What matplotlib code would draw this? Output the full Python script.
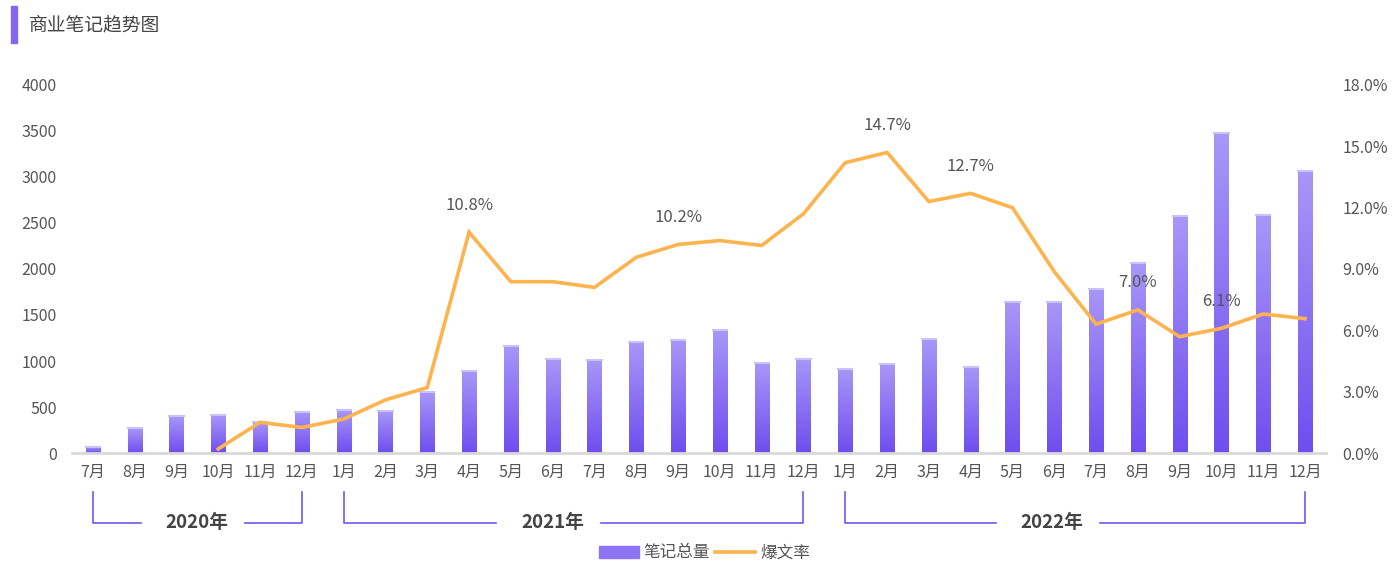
import numpy as np
import matplotlib.pyplot as plt
from matplotlib.patches import Rectangle
from matplotlib.lines import Line2D
from matplotlib.colors import LinearSegmentedColormap

plt.rcParams['font.family'] = ['Noto Sans CJK SC', 'DejaVu Sans']

# --- data
months = ["7月", "8月", "9月", "10月", "11月", "12月",
          "1月", "2月", "3月", "4月", "5月", "6月", "7月", "8月", "9月", "10月", "11月", "12月",
          "1月", "2月", "3月", "4月", "5月", "6月", "7月", "8月", "9月", "10月", "11月", "12月"]
notes_total = [70, 270, 400, 410, 340, 450,
               467, 456, 660, 890, 1163, 1018, 1010, 1203, 1225, 1333, 975, 1022,
               913, 964, 1239, 938, 1645, 1645, 1786, 2062, 2572, 3475, 2583, 3065]
# 爆文率 (%), starts at Oct 2020
hit_rate = [None, None, None, 0.2, 1.5, 1.25,
            1.66, 2.6, 3.2, 10.8, 8.38, 8.38, 8.1, 9.57, 10.2, 10.39, 10.15, 11.7,
            14.2, 14.7, 12.3, 12.7, 12.0, 8.87, 6.3, 7.0, 5.69, 6.1, 6.8, 6.57]
labeled_idx = [9, 14, 19, 21, 25, 27]
years = ["2020年", "2021年", "2022年"]
year_spans = [(0, 5), (6, 17), (18, 29)]

PURPLE = "#7456EE"
ORANGE = "#FDB44E"
TXT = "#555555"

fig = plt.figure(figsize=(14, 5.73), dpi=100)
ax = fig.add_axes([0.0514, 0.2094, 0.8957, 0.6423])
ax2 = ax.twinx()

x = np.arange(len(months))
w = 0.34
cmap = LinearSegmentedColormap.from_list("g", ["#6F4EEE", "#A897F8"])
grad = np.linspace(0, 1, 256).reshape(-1, 1)
for xi, h in zip(x, notes_total):
    ax.imshow(grad, extent=[xi - w / 2, xi + w / 2, 0, h], origin="lower",
              cmap=cmap, aspect="auto", zorder=2)
    ax.plot([xi - w / 2, xi + w / 2], [h, h], color="#CBC1FB", lw=1.5, zorder=3)

ax.set_xlim(-0.5, len(months) - 0.5)
ax.set_ylim(0, 4000)
ax.set_yticks(range(0, 4001, 500))
ax.set_xticks(x)
ax.set_xticklabels(months)
ax.tick_params(axis="y", length=0, pad=11, labelsize=11.5, labelcolor=TXT)
ax.tick_params(axis="x", length=0, pad=8, labelsize=11.5, labelcolor=TXT)
for s in ["top", "right", "left"]:
    ax.spines[s].set_visible(False)
ax.spines["bottom"].set_color("#D9D9D9")
ax.spines["bottom"].set_linewidth(2)

# --- line
lx = [i for i, v in enumerate(hit_rate) if v is not None]
ly = [v for v in hit_rate if v is not None]
ax2.plot(lx, ly, color=ORANGE, lw=2.6, zorder=4, solid_joinstyle="miter")
ax2.set_ylim(0, 18)
ax2.set_yticks(np.arange(0, 18.1, 3))
ax2.set_yticklabels([f"{v:.1f}%" for v in np.arange(0, 18.1, 3)])
ax2.tick_params(axis="y", length=0, pad=12, labelsize=11.5, labelcolor=TXT)
for s in ax2.spines.values():
    s.set_visible(False)
for i in labeled_idx:
    ax2.annotate(f"{hit_rate[i]:.1f}%", (i, hit_rate[i]), xytext=(0, 19.5),
                 textcoords="offset points", ha="center", va="center",
                 fontsize=12, color=TXT)

# --- year brackets below the axis
trans = ax.get_xaxis_transform()
y_top, y_bot = -0.105, -0.19
text_shift = [0, -0.5, -0.55]
for (a, b), name, sh in zip(year_spans, years, text_shift):
    mid = (a + b) / 2 + sh
    ax.plot([a, a, mid - 1.35], [y_top, y_bot, y_bot], color=PURPLE, lw=1.2,
            transform=trans, clip_on=False)
    ax.plot([mid + 1.15, b, b], [y_bot, y_bot, y_top], color=PURPLE, lw=1.2,
            transform=trans, clip_on=False)
    ax.text(mid, y_bot, name, transform=trans, ha="center", va="center",
            fontsize=13.5, fontweight="bold", color="#444444")

# --- title
fig.patches.append(Rectangle((11 / 1400, 1 - 43 / 573), 6 / 1400, 37 / 573,
                             transform=fig.transFigure, color="#8466F3"))
fig.text(29 / 1400, 1 - 25 / 573, "商业笔记趋势图", fontsize=13.5, color="#444444",
         ha="left", va="center")

# --- legend
handles = [Rectangle((0, 0), 1, 1, color="#8C74F4"),
           Line2D([0], [0], color=ORANGE, lw=2.6)]
fig.legend(handles, ["笔记总量", "爆文率"], loc="center", bbox_to_anchor=(0.503, 1 - 553 / 573),
           ncol=2, frameon=False, fontsize=12, labelcolor=TXT, handlelength=2.4,
           handleheight=0.75, columnspacing=0.3, handletextpad=0.3)

fig.savefig("out.png", dpi=100, facecolor="white")
